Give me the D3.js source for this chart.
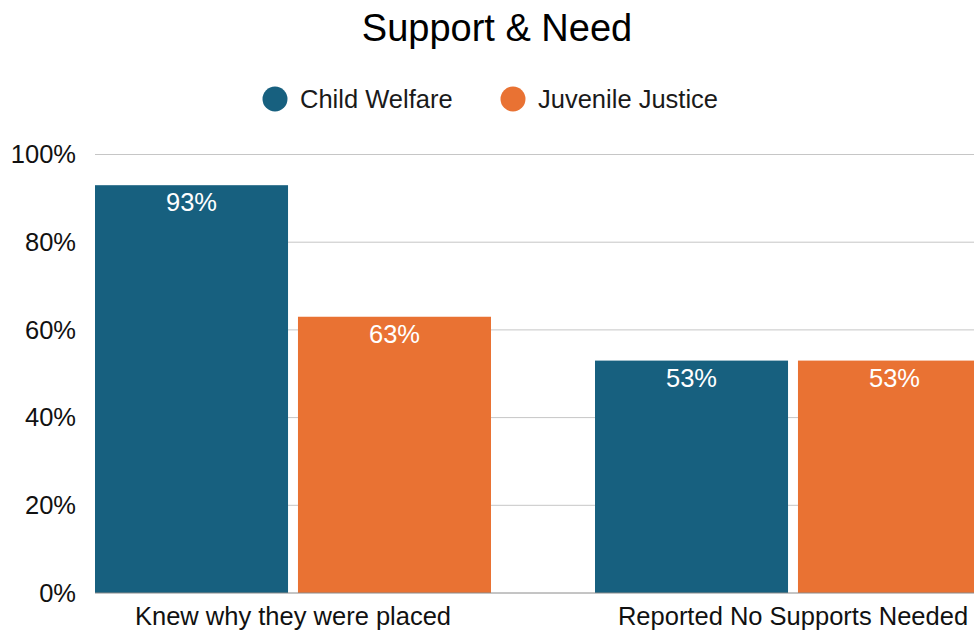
<!DOCTYPE html>
<html>
<head>
<meta charset="utf-8">
<script src="https://cdn.jsdelivr.net/npm/d3@7"></script>
<style>
  html, body { margin: 0; padding: 0; background: #fff; }
  svg { display: block; font-family: "Liberation Sans", Arial, sans-serif; }
</style>
</head>
<body>
<svg id="chart" width="974" height="631"></svg>
<script>
// chart data
const categories = ['Knew why they were placed', 'Reported No Supports Needed'];
const seriesNames = ['Child Welfare', 'Juvenile Justice'];
const childWelfare = [93, 53];
const juvenileJustice = [63, 53];
const yTicks = [0, 20, 40, 60, 80, 100];
const colors = ['#17607f', '#e97233'];

const width = 974, height = 631;
const svg = d3.select('#chart');
const fs = 25.5;

// plot area
const plot = { left: 95, right: 974, top: 154.5, bottom: 593 };

const x0 = d3.scaleBand().domain(categories).range([plot.left, 991])
  .paddingInner(0.208).paddingOuter(0);
const x1 = d3.scaleBand().domain(seriesNames).range([0, x0.bandwidth()])
  .paddingInner(0.049).paddingOuter(0);
const y = d3.scaleLinear().domain([0, 100]).range([plot.bottom, plot.top]);

const rows = categories.map((c, i) => ({
  cat: c,
  values: [
    { name: seriesNames[0], v: childWelfare[i] },
    { name: seriesNames[1], v: juvenileJustice[i] }
  ]
}));

// title
svg.append('text')
  .attr('x', 497)
  .attr('y', 41)
  .attr('text-anchor', 'middle')
  .attr('font-size', 38)
  .attr('fill', '#000')
  .text('Support & Need');

// legend
const legendX = [275, 513];
const legend = svg.append('g');
seriesNames.forEach((s, i) => {
  legend.append('circle')
    .attr('cx', legendX[i]).attr('cy', 99).attr('r', 12.5)
    .attr('fill', colors[i]);
  legend.append('text')
    .attr('x', legendX[i] + 25).attr('y', 108)
    .attr('font-size', fs)
    .attr('fill', '#1a1a1a')
    .text(s);
});

// gridlines
svg.append('g').selectAll('line').data(yTicks.filter(d => d > 0)).enter().append('line')
  .attr('x1', plot.left).attr('x2', plot.right)
  .attr('y1', d => y(d)).attr('y2', d => y(d))
  .attr('stroke', '#c6c6c6').attr('stroke-width', 1);

// y axis labels
const yAxis = svg.append('g')
  .attr('transform', `translate(${plot.left - 19},0)`)
  .call(d3.axisLeft(y).tickValues(yTicks).tickFormat(d => `${d}%`).tickSize(0).tickPadding(0));
yAxis.select('.domain').remove();
yAxis.selectAll('text')
  .attr('font-size', fs)
  .attr('fill', '#111')
  .attr('font-family', '"Liberation Sans", Arial, sans-serif');

// bars
const groups = svg.append('g').selectAll('g').data(rows).enter().append('g')
  .attr('transform', d => `translate(${x0(d.cat)},0)`);

groups.selectAll('rect').data(d => d.values).enter().append('rect')
  .attr('x', d => x1(d.name))
  .attr('y', d => y(d.v))
  .attr('width', x1.bandwidth())
  .attr('height', d => y(0) - y(d.v))
  .attr('fill', (d, i) => colors[i]);

groups.selectAll('text.val').data(d => d.values).enter().append('text')
  .attr('class', 'val')
  .attr('x', d => x1(d.name) + x1.bandwidth() / 2)
  .attr('y', d => y(d.v) + 26)
  .attr('text-anchor', 'middle')
  .attr('font-size', fs)
  .attr('fill', '#fff')
  .text(d => `${d.v}%`);

// baseline
svg.append('line')
  .attr('x1', plot.left).attr('x2', plot.right)
  .attr('y1', y(0)).attr('y2', y(0))
  .attr('stroke', '#8a8a8a').attr('stroke-width', 1);

// category labels
svg.append('g').selectAll('text').data(categories).enter().append('text')
  .attr('x', d => x0(d) + x0.bandwidth() / 2)
  .attr('y', 625)
  .attr('text-anchor', 'middle')
  .attr('font-size', fs)
  .attr('fill', '#111')
  .text(d => d);
</script>
</body>
</html>
